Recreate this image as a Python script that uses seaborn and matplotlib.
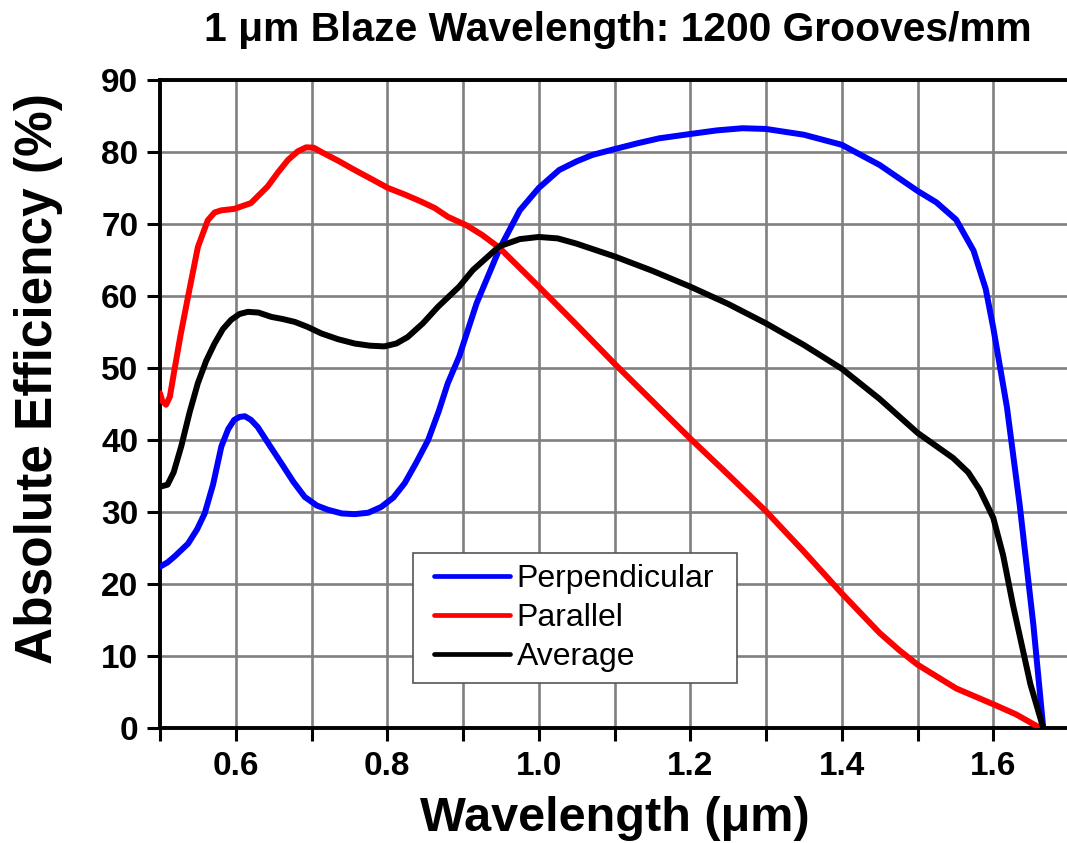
import numpy as np
import pandas as pd
import matplotlib
matplotlib.use("Agg")
import matplotlib.pyplot as plt
from matplotlib.legend_handler import HandlerLine2D
from matplotlib.lines import Line2D
import seaborn as sns

# ---- data ----
perp_x = [0.500, 0.510, 0.520, 0.537, 0.549, 0.559, 0.570, 0.581, 0.590, 0.598, 0.605,
          0.612, 0.620, 0.629, 0.645, 0.660, 0.676, 0.691, 0.707, 0.722, 0.740, 0.757,
          0.775, 0.792, 0.808, 0.823, 0.838, 0.854, 0.868, 0.880, 0.895, 0.918, 0.948,
          0.975, 1.000, 1.027, 1.050, 1.071, 1.100, 1.130, 1.159, 1.200, 1.235, 1.269,
          1.300, 1.350, 1.400, 1.450, 1.500, 1.525, 1.551, 1.574, 1.590, 1.600, 1.618,
          1.635, 1.653, 1.666]
perp_y = [22.4, 23.0, 23.9, 25.6, 27.6, 29.8, 33.8, 39.1, 41.5, 42.8, 43.2,
          43.3, 42.8, 41.8, 39.2, 36.8, 34.2, 32.1, 30.9, 30.3, 29.8, 29.7,
          29.9, 30.7, 32.0, 34.0, 36.8, 40.0, 44.0, 47.9, 51.6, 59.0, 66.5,
          71.9, 75.0, 77.5, 78.7, 79.6, 80.4, 81.2, 81.9, 82.5, 83.0, 83.3,
          83.2, 82.4, 81.0, 78.2, 74.6, 73.0, 70.6, 66.3, 61.0, 55.6, 44.6,
          30.9, 14.3, 0.0]

par_x = [0.500, 0.503, 0.508, 0.513, 0.519, 0.527, 0.537, 0.550, 0.563, 0.572, 0.581,
         0.598, 0.620, 0.642, 0.656, 0.669, 0.682, 0.693, 0.703, 0.713, 0.735, 0.757,
         0.780, 0.801, 0.823, 0.845, 0.863, 0.880, 0.905, 0.925, 0.948, 1.000, 1.050,
         1.100, 1.150, 1.200, 1.250, 1.300, 1.350, 1.400, 1.450, 1.476, 1.500, 1.551,
         1.600, 1.630, 1.662]
par_y = [46.5, 45.4, 44.9, 46.0, 49.7, 54.5, 59.9, 66.8, 70.5, 71.6, 71.9,
         72.1, 72.9, 75.2, 77.2, 78.9, 80.1, 80.65, 80.6, 80.0, 78.8, 77.5,
         76.2, 75.0, 74.1, 73.1, 72.2, 71.0, 69.8, 68.5, 66.7, 61.3, 56.0,
         50.6, 45.4, 40.2, 35.2, 30.1, 24.5, 18.7, 13.2, 10.8, 8.8, 5.5,
         3.3, 1.9, 0.0]

avg_x = [0.500, 0.510, 0.518, 0.528, 0.539, 0.550, 0.561, 0.572, 0.583, 0.594, 0.605,
         0.616, 0.630, 0.647, 0.662, 0.678, 0.695, 0.713, 0.735, 0.757, 0.777, 0.796,
         0.812, 0.827, 0.847, 0.867, 0.895, 0.913, 0.948, 0.975, 1.000, 1.025, 1.049,
         1.100, 1.150, 1.200, 1.250, 1.300, 1.350, 1.400, 1.450, 1.500, 1.547, 1.567,
         1.582, 1.600, 1.613, 1.626, 1.649, 1.666]
avg_y = [33.5, 33.8, 35.5, 39.1, 43.8, 47.9, 51.0, 53.4, 55.4, 56.7, 57.5,
         57.8, 57.7, 57.1, 56.8, 56.4, 55.7, 54.8, 54.0, 53.4, 53.1, 53.0,
         53.4, 54.3, 56.2, 58.5, 61.3, 63.6, 66.9, 67.9, 68.2, 68.0, 67.3,
         65.5, 63.5, 61.3, 58.9, 56.2, 53.2, 49.9, 45.7, 41.0, 37.5, 35.5,
         33.1, 29.2, 24.0, 17.1, 6.1, 0.0]

series_names = ["Perpendicular", "Parallel", "Average"]
series_colors = ["#0000FF", "#FF0000", "#000000"]

x_major = [0.6, 0.8, 1.0, 1.2, 1.4, 1.6]
x_minor = [0.5, 0.7, 0.9, 1.1, 1.3, 1.5, 1.7]
y_ticks = [0, 10, 20, 30, 40, 50, 60, 70, 80, 90]

title_text = "1 \u03bcm Blaze Wavelength: 1200 Grooves/mm"
xlabel_text = "Wavelength (\u03bcm)"
ylabel_text = "Absolute Efficiency (%)"

# ---- build long-form table ----
frames = []
for name, xs, ys in zip(series_names, [perp_x, par_x, avg_x], [perp_y, par_y, avg_y]):
    frames.append(pd.DataFrame({"Wavelength": xs, "Efficiency": ys, "Polarization": name}))
df = pd.concat(frames, ignore_index=True)

sns.set_style("white")
plt.rcParams["font.family"] = ["Liberation Sans", "DejaVu Sans"]
plt.rcParams["text.color"] = "black"
plt.rcParams["axes.labelcolor"] = "black"
plt.rcParams["xtick.color"] = "black"
plt.rcParams["ytick.color"] = "black"

fig = plt.figure(figsize=(10.67, 8.43), dpi=100)
W, H = 1067, 843
ax = fig.add_axes([160 / W, 115 / H, 909 / W, 648 / H])

sns.lineplot(data=df, x="Wavelength", y="Efficiency", hue="Polarization",
             palette=dict(zip(series_names, series_colors)), hue_order=series_names,
             estimator=None, sort=False, linewidth=4.3, ax=ax, zorder=3)
for ln in ax.get_lines():
    ln.set_solid_joinstyle("round")
    ln.set_solid_capstyle("round")

ax.set_xlim(0.5, 1.7)
ax.set_ylim(0, 90)
ax.set_xticks(x_major)
ax.set_xticklabels([f"{v:.1f}" for v in x_major])
ax.set_xticks(x_minor, minor=True)
ax.set_yticks(y_ticks)
ax.set_yticklabels([str(v) for v in y_ticks])

ax.set_axisbelow(True)
ax.grid(True, which="both", color="#808080", linewidth=1.9)

for side in ["left", "bottom", "top"]:
    ax.spines[side].set_visible(True)
    ax.spines[side].set_color("black")
    ax.spines[side].set_linewidth(2.8)
ax.spines["right"].set_visible(False)

ax.tick_params(axis="both", which="both", direction="out", length=9.5, width=2.2,
               color="black", labelcolor="black", bottom=True, left=True, top=False, right=False)
ax.tick_params(axis="x", which="both", pad=7)
ax.tick_params(axis="y", which="both", pad=6)
for lab in ax.get_xticklabels() + ax.get_yticklabels():
    lab.set_fontsize(24)
    lab.set_fontweight("bold")

ax.set_xlabel(xlabel_text, fontsize=35, fontweight="bold", labelpad=10, color="black")
ax.set_ylabel(ylabel_text, fontsize=37, fontweight="bold", color="black")
ax.yaxis.set_label_coords(-0.1067, 0.540)

fig.text(618 / W, 1 - 41 / H, title_text, ha="center", va="baseline",
         fontsize=29.3, fontweight="bold", color="black")

handles, labels = ax.get_legend_handles_labels()
leg = ax.legend(handles, labels, loc="lower left",
                bbox_to_anchor=(0.2783, 0.0694, 0.3564, 0.2), mode="expand",
                borderaxespad=0, fontsize=23, frameon=True, fancybox=False,
                framealpha=1, edgecolor="#555555", handlelength=2.7,
                handletextpad=0.22, labelspacing=0.29, borderpad=0.33,
                handler_map={Line2D: HandlerLine2D(xpad=0.33)})
leg.get_frame().set_linewidth(1.2)
for t in leg.get_texts():
    t.set_color("black")
for h in leg.get_lines():
    h.set_linewidth(3.4)
    h.set_solid_capstyle("round")

fig.savefig("out.png", dpi=100)
